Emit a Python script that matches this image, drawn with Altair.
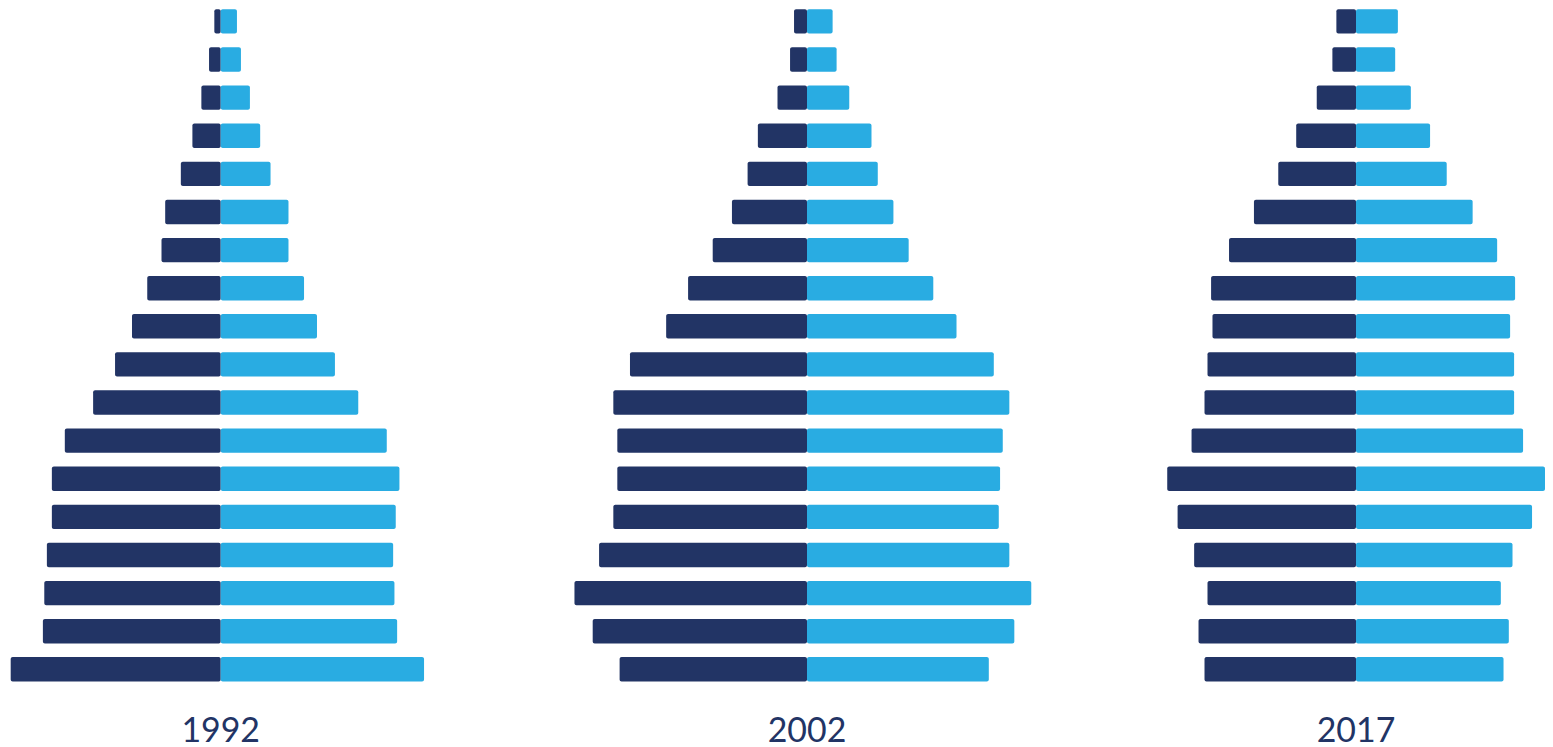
import altair as alt
import pandas as pd

# Age groups, top of pyramid to bottom
ages = ["85+", "80-84", "75-79", "70-74", "65-69", "60-64", "55-59", "50-54", "45-49",
        "40-44", "35-39", "30-34", "25-29", "20-24", "15-19", "10-14", "5-9", "0-4"]

years = ["1992", "2002", "2017"]

male_1992 = [0.64, 1.17, 1.94, 2.84, 4.00, 5.57, 5.94, 7.37, 8.90,
             10.60, 12.80, 15.64, 16.94, 16.94, 17.44, 17.70, 17.84, 21.07]
female_1992 = [1.63, 2.03, 2.93, 3.96, 5.00, 6.80, 6.80, 8.36, 9.66,
               11.46, 13.80, 16.66, 17.93, 17.56, 17.30, 17.43, 17.70, 20.40]

male_2002 = [1.30, 1.70, 2.96, 4.93, 5.96, 7.53, 9.46, 11.93, 14.13,
             17.76, 19.43, 19.03, 19.03, 19.43, 20.86, 23.33, 21.50, 18.80]
female_2002 = [2.57, 2.97, 4.24, 6.47, 7.10, 8.67, 10.20, 12.67, 15.00,
               18.74, 20.30, 19.64, 19.37, 19.24, 20.30, 22.50, 20.80, 18.24]

male_2017 = [1.97, 2.37, 3.94, 6.00, 7.80, 10.24, 12.74, 14.54, 14.40,
             14.90, 15.20, 16.50, 18.94, 17.90, 16.24, 14.90, 15.80, 15.20]
female_2017 = [4.20, 3.93, 5.50, 7.43, 9.10, 11.70, 14.16, 15.96, 15.46,
               15.86, 15.86, 16.76, 18.96, 17.66, 15.70, 14.53, 15.33, 14.80]

NAVY = "#223465"
LIGHT = "#29ace2"

series = {
    "1992": (male_1992, female_1992),
    "2002": (male_2002, female_2002),
    "2017": (male_2017, female_2017),
}

rows = []
for year in years:
    m, f = series[year]
    for age, mv, fv in zip(ages, m, f):
        rows.append({"year": year, "age": age, "sex": "Male", "start": -mv, "end": 0.0})
        rows.append({"year": year, "age": age, "sex": "Female", "start": 0.0, "end": fv})
df = pd.DataFrame(rows)

# panel layout: (domain low, domain high, panel width)
layout = {
    "1992": (-21.34, 29.16, 505),
    "2002": (-29.66, 27.04, 567),
    "2017": (-28.04, 18.96, 470),
}


def panel(year):
    lo, hi, w = layout[year]
    xscale = alt.Scale(domain=[lo, hi], nice=False, zero=False)
    bars = alt.Chart(df).transform_filter(alt.datum.year == year).mark_bar(cornerRadius=2).encode(
        x=alt.X("start:Q", scale=xscale, axis=None),
        x2="end:Q",
        y=alt.Y("age:N", sort=ages, axis=None,
                scale=alt.Scale(paddingInner=0.36, paddingOuter=0)),
        color=alt.Color("sex:N", legend=None,
                        scale=alt.Scale(domain=["Male", "Female"], range=[NAVY, LIGHT])),
    )
    label = alt.Chart(pd.DataFrame({"year": [year]})).mark_text(
        font="Lato", fontSize=34, color=NAVY, baseline="alphabetic", align="center"
    ).encode(
        x=alt.datum(0),
        y=alt.value(735),
        text="year:N",
    )
    return alt.layer(bars, label).properties(width=w, height=674.5)


chart = alt.hconcat(*[panel(y) for y in years], spacing=0).properties(
    padding=0
).configure_view(stroke=None)

chart.save("out.html", embed_options={"renderer": "svg", "actions": False})
